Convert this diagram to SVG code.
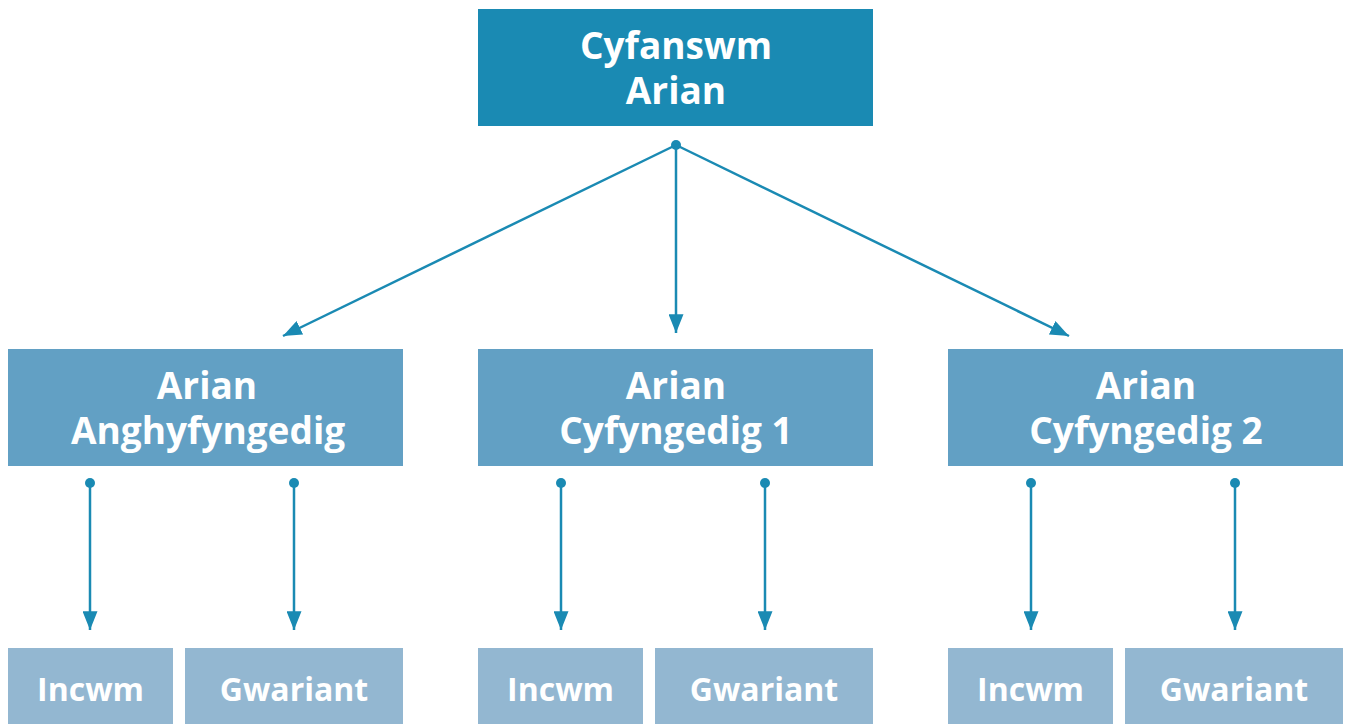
<svg xmlns="http://www.w3.org/2000/svg" width="1346" height="724" viewBox="0 0 1346 724">
<style>
.t{font-family:"Open Sans","DejaVu Sans",sans-serif;font-weight:bold;fill:#fff;text-anchor:middle}
.big{font-size:37px}
.sm{font-size:32px}
.c{stroke:#1a8ab3;stroke-width:2.5;fill:none;marker-end:url(#ah)}
.d{fill:#1a8ab3}
</style>
<defs>
<marker id="ah" markerWidth="8" markerHeight="6" refX="7.5" refY="3" orient="auto" markerUnits="strokeWidth">
<path d="M0,0 L7.5,3 L0,6 Z" fill="#1a8ab3"/>
</marker>
</defs>
<rect width="1346" height="724" fill="#fff"/>
<g id="top">
<rect x="478" y="9" width="395" height="117" fill="#1a8ab3"/>
<text class="t big"><tspan x="676" y="59">Cyfanswm</tspan><tspan x="676" y="104">Arian</tspan></text>
</g>
<g id="mid1">
<rect x="8" y="349" width="395" height="117" fill="#62a0c4"/>
<text class="t big"><tspan x="207" y="399">Arian</tspan><tspan x="208" y="444">Anghyfyngedig</tspan></text>
</g>
<g id="mid2">
<rect x="478" y="349" width="395" height="117" fill="#62a0c4"/>
<text class="t big"><tspan x="676" y="399">Arian</tspan><tspan x="676" y="444">Cyfyngedig 1</tspan></text>
</g>
<g id="mid3">
<rect x="948" y="349" width="395" height="117" fill="#62a0c4"/>
<text class="t big"><tspan x="1146" y="399">Arian</tspan><tspan x="1146" y="444">Cyfyngedig 2</tspan></text>
</g>
<g id="b1"><rect x="8" y="648" width="165" height="76" fill="#93b7d1"/><text class="t sm" x="90.5" y="701">Incwm</text></g>
<g id="b2"><rect x="185" y="648" width="218" height="76" fill="#93b7d1"/><text class="t sm" x="294" y="701">Gwariant</text></g>
<g id="b3"><rect x="478" y="648" width="165" height="76" fill="#93b7d1"/><text class="t sm" x="560.5" y="701">Incwm</text></g>
<g id="b4"><rect x="655" y="648" width="218" height="76" fill="#93b7d1"/><text class="t sm" x="764" y="701">Gwariant</text></g>
<g id="b5"><rect x="948" y="648" width="165" height="76" fill="#93b7d1"/><text class="t sm" x="1030.5" y="701">Incwm</text></g>
<g id="b6"><rect x="1125" y="648" width="218" height="76" fill="#93b7d1"/><text class="t sm" x="1234" y="701">Gwariant</text></g>
<g id="connectors">
<circle class="d" cx="676" cy="145" r="5"/>
<path class="c" d="M676,145 L283,336"/>
<path class="c" d="M676,145 L676,333"/>
<path class="c" d="M676,145 L1069,336"/>
<circle class="d" cx="90" cy="483" r="5"/>
<path class="c" d="M90,483 L90,630"/>
<circle class="d" cx="294" cy="483" r="5"/>
<path class="c" d="M294,483 L294,630"/>
<circle class="d" cx="561" cy="483" r="5"/>
<path class="c" d="M561,483 L561,630"/>
<circle class="d" cx="765" cy="483" r="5"/>
<path class="c" d="M765,483 L765,630"/>
<circle class="d" cx="1031" cy="483" r="5"/>
<path class="c" d="M1031,483 L1031,630"/>
<circle class="d" cx="1235" cy="483" r="5"/>
<path class="c" d="M1235,483 L1235,630"/>
</g>
</svg>
